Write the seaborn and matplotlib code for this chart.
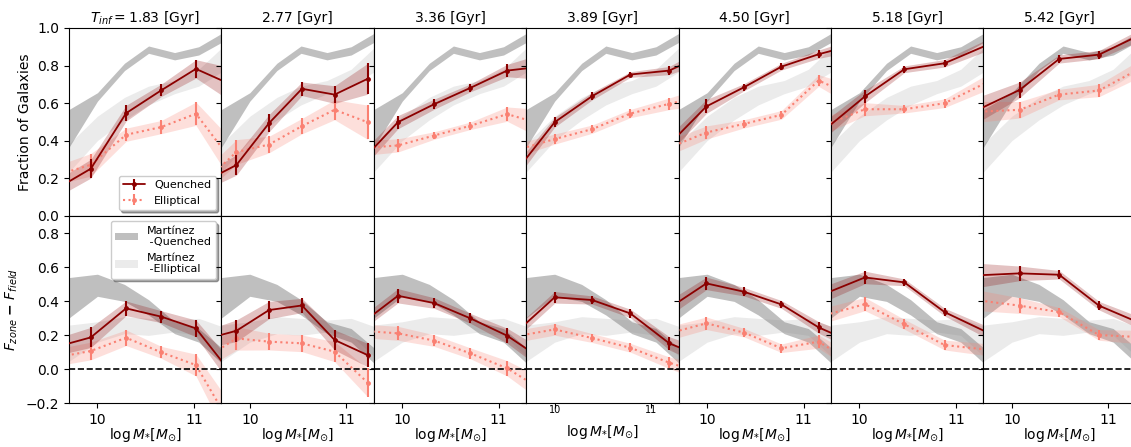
import numpy as np
import matplotlib
matplotlib.use("Agg")
import matplotlib.pyplot as plt
import seaborn as sns

# Infall-time bins (one column each)
t_inf = ["1.83", "2.77", "3.36", "3.89", "4.50", "5.18", "5.42"]

# Median log stellar mass of each mass bin, per infall-time bin
log_mass = [
    [9.565, 9.931, 10.297, 10.662, 11.021, 11.387],
    [9.521, 9.861, 10.199, 10.540, 10.878, 11.220],
    [9.578, 9.955, 10.331, 10.707, 11.087, 11.464],
    [9.604, 10.000, 10.389, 10.785, 11.188, 11.584],
    [9.605, 9.993, 10.382, 10.771, 11.156, 11.544],
    [9.643, 10.056, 10.465, 10.882, 11.300],
    [9.667, 10.080, 10.490, 10.903, 11.316],
]

# Fraction of quenched galaxies and its uncertainty
frac_quenched = [
    [0.140, 0.250, 0.546, 0.668, 0.782, 0.698],
    [0.179, 0.270, 0.493, 0.676, 0.645, 0.729],
    [0.291, 0.498, 0.594, 0.681, 0.773, 0.795],
    [0.239, 0.498, 0.637, 0.752, 0.773, 0.867],
    [0.379, 0.582, 0.684, 0.794, 0.860, 0.913],
    [0.460, 0.635, 0.780, 0.812, 0.904],
    [0.569, 0.670, 0.835, 0.858, 0.960],
]
frac_quenched_err = [
    [0.045, 0.050, 0.042, 0.033, 0.049, 0.090],
    [0.045, 0.054, 0.046, 0.036, 0.047, 0.082],
    [0.045, 0.035, 0.027, 0.021, 0.033, 0.070],
    [0.040, 0.026, 0.020, 0.015, 0.022, 0.040],
    [0.045, 0.037, 0.019, 0.018, 0.022, 0.035],
    [0.045, 0.034, 0.018, 0.020, 0.030],
    [0.066, 0.042, 0.022, 0.022, 0.030],
]

# Fraction of elliptical galaxies and its uncertainty
frac_elliptical = [
    [0.214, 0.271, 0.431, 0.472, 0.543, 0.296],
    [0.177, 0.339, 0.379, 0.477, 0.564, 0.498],
    [0.360, 0.374, 0.427, 0.479, 0.541, 0.485],
    [0.349, 0.408, 0.461, 0.544, 0.596, 0.642],
    [0.362, 0.443, 0.489, 0.537, 0.720, 0.631],
    [0.483, 0.567, 0.567, 0.599, 0.705],
    [0.554, 0.564, 0.645, 0.667, 0.781],
]
frac_elliptical_err = [
    [0.050, 0.060, 0.035, 0.035, 0.062, 0.110],
    [0.060, 0.066, 0.044, 0.041, 0.053, 0.091],
    [0.040, 0.035, 0.020, 0.020, 0.038, 0.080],
    [0.035, 0.027, 0.022, 0.022, 0.031, 0.050],
    [0.040, 0.035, 0.022, 0.023, 0.031, 0.060],
    [0.045, 0.035, 0.020, 0.023, 0.040],
    [0.055, 0.044, 0.028, 0.033, 0.045],
]

# Excess over the field: F_zone - F_field
diff_quenched = [
    [0.131, 0.188, 0.359, 0.310, 0.241, -0.023],
    [0.175, 0.227, 0.349, 0.376, 0.173, 0.084],
    [0.270, 0.433, 0.390, 0.300, 0.198, 0.054],
    [0.220, 0.424, 0.408, 0.329, 0.153, 0.062],
    [0.360, 0.506, 0.457, 0.382, 0.247, 0.150],
    [0.446, 0.541, 0.512, 0.337, 0.224],
    [0.554, 0.565, 0.557, 0.375, 0.275],
]
diff_quenched_err = [
    [0.050, 0.059, 0.043, 0.035, 0.049, 0.070],
    [0.050, 0.064, 0.051, 0.042, 0.059, 0.069],
    [0.040, 0.042, 0.031, 0.029, 0.044, 0.060],
    [0.035, 0.034, 0.024, 0.025, 0.039, 0.050],
    [0.045, 0.037, 0.025, 0.023, 0.034, 0.045],
    [0.045, 0.037, 0.020, 0.023, 0.035],
    [0.070, 0.043, 0.025, 0.025, 0.035],
]
diff_elliptical = [
    [0.069, 0.108, 0.186, 0.100, 0.025, -0.330],
    [0.060, 0.182, 0.163, 0.153, 0.104, -0.078],
    [0.227, 0.212, 0.169, 0.094, 0.006, -0.126],
    [0.195, 0.235, 0.184, 0.127, 0.039, -0.032],
    [0.212, 0.271, 0.216, 0.124, 0.163, 0.027],
    [0.319, 0.384, 0.265, 0.143, 0.117],
    [0.405, 0.375, 0.337, 0.202, 0.190],
]
diff_elliptical_err = [
    [0.050, 0.052, 0.046, 0.035, 0.064, 0.120],
    [0.060, 0.069, 0.049, 0.049, 0.059, 0.083],
    [0.040, 0.041, 0.034, 0.032, 0.045, 0.070],
    [0.035, 0.034, 0.026, 0.026, 0.034, 0.050],
    [0.040, 0.037, 0.025, 0.025, 0.039, 0.050],
    [0.045, 0.039, 0.029, 0.029, 0.035],
    [0.060, 0.046, 0.027, 0.031, 0.040],
]

# Martínez et al. reference ranges (same in every column)
mz_mass = [9.70, 10.00, 10.28, 10.53, 10.80, 11.05, 11.30]
mz_frac_q_lo = [0.360, 0.610, 0.773, 0.865, 0.830, 0.856, 0.927]
mz_frac_q_hi = [0.564, 0.655, 0.812, 0.904, 0.869, 0.900, 0.975]
mz_frac_e_lo = [0.230, 0.400, 0.510, 0.590, 0.650, 0.690, 0.770]
mz_frac_e_hi = [0.380, 0.530, 0.630, 0.690, 0.720, 0.780, 0.900]
mz_diff_q_lo = [0.300, 0.430, 0.400, 0.320, 0.210, 0.160, 0.030]
mz_diff_q_hi = [0.540, 0.560, 0.500, 0.410, 0.280, 0.240, 0.120]
mz_diff_e_lo = [0.045, 0.160, 0.210, 0.200, 0.220, 0.200, 0.070]
mz_diff_e_hi = [0.260, 0.280, 0.310, 0.300, 0.290, 0.300, 0.250]

# ---------------------------------------------------------------------------
sns.set_theme(style="ticks", rc={
    "font.size": 10, "axes.titlesize": 10, "axes.labelsize": 10,
    "xtick.labelsize": 10, "ytick.labelsize": 10, "legend.fontsize": 8,
    "xtick.major.size": 3.5, "ytick.major.size": 3.5,
    "xtick.major.width": 0.8, "ytick.major.width": 0.8,
    "axes.linewidth": 0.8, "axes.edgecolor": "black",
    "xtick.color": "black", "ytick.color": "black",
    "text.color": "black", "axes.labelcolor": "black",
    "patch.force_edgecolor": False,
})
plt.rcParams["font.family"] = ["DejaVu Sans"]

Q_COLOR = "darkred"
E_COLOR = "salmon"

fig, axes = plt.subplots(2, 7, figsize=(11.31, 4.47), dpi=100,
                         sharex=True, sharey="row")
fig.subplots_adjust(left=0.061, right=1.0043, top=0.9374, bottom=0.0978,
                    wspace=0, hspace=0)

mz_handles = None
for i in range(7):
    ax_top, ax_bot = axes[0, i], axes[1, i]

    # reference bands
    ax_top.fill_between(mz_mass, mz_frac_e_lo, mz_frac_e_hi,
                        color="lightgray", alpha=0.45, lw=0, zorder=1)
    ax_top.fill_between(mz_mass, mz_frac_q_lo, mz_frac_q_hi,
                        color="gray", alpha=0.5, lw=0, zorder=1.1)
    be = ax_bot.fill_between(mz_mass, mz_diff_e_lo, mz_diff_e_hi,
                             color="lightgray", alpha=0.45, lw=0, zorder=1)
    bq = ax_bot.fill_between(mz_mass, mz_diff_q_lo, mz_diff_q_hi,
                             color="gray", alpha=0.5, lw=0, zorder=1.1)
    if i == 0:
        mz_handles = (bq, be)

    x = np.asarray(log_mass[i])
    rows = [
        (ax_top, frac_quenched[i], frac_quenched_err[i],
         frac_elliptical[i], frac_elliptical_err[i]),
        (ax_bot, diff_quenched[i], diff_quenched_err[i],
         diff_elliptical[i], diff_elliptical_err[i]),
    ]
    for ax, yq, eq, ye, ee in rows:
        yq, eq = np.asarray(yq), np.asarray(eq)
        ye, ee = np.asarray(ye), np.asarray(ee)
        ax.fill_between(x, ye - ee, ye + ee, color=E_COLOR, alpha=0.25,
                        lw=0, zorder=2)
        ax.fill_between(x, yq - eq, yq + eq, color=Q_COLOR, alpha=0.24,
                        lw=0, zorder=2.1)
        sns.lineplot(x=x, y=ye, ax=ax, color=E_COLOR, linestyle=":",
                     linewidth=1.5, marker="o", markersize=3.5,
                     markeredgewidth=0, zorder=3)
        ax.errorbar(x, ye, yerr=ee, fmt="none", ecolor=E_COLOR,
                    elinewidth=1.5, zorder=3)
        sns.lineplot(x=x, y=yq, ax=ax, color=Q_COLOR, linestyle="-",
                     linewidth=1.3, marker="o", markersize=3.5,
                     markeredgewidth=0, zorder=4)
        ax.errorbar(x, yq, yerr=eq, fmt="none", ecolor=Q_COLOR,
                    elinewidth=1.5, zorder=4)

    ax_bot.axhline(0.0, color="black", linestyle="--", linewidth=1.2,
                   zorder=2.5)

    title = (r"$T_{inf} = %s$ [Gyr]" % t_inf[i]) if i == 0 else f"{t_inf[i]} [Gyr]"
    ax_top.set_title(title, pad=4)
    ax_top.set_xlabel("")
    ax_top.set_ylabel("")
    ax_top.tick_params(axis="x", bottom=False)
    ax_bot.set_xlabel(r"$\log M_{*}[M_{\odot}]$", labelpad=-1)
    ax_bot.set_ylabel("")

axes[0, 0].set_xlim(9.705, 11.285)
axes[0, 0].set_xticks([10, 11])
axes[0, 0].set_ylim(0.0, 1.0)
axes[0, 0].set_yticks([0.0, 0.2, 0.4, 0.6, 0.8, 1.0])
axes[1, 0].set_ylim(-0.2, 0.905)
axes[1, 0].set_yticks([-0.2, 0.0, 0.2, 0.4, 0.6, 0.8])

# the fourth column carries smaller mass tick labels
axes[1, 3].tick_params(axis="x", labelsize=7, pad=-2.3)
axes[1, 3].xaxis.labelpad = 6.0

axes[0, 0].set_ylabel("Fraction of Galaxies")
axes[1, 0].set_ylabel(r"$F_{zone}$ $\mathbf{-}$ $F_{field}$")

# legends
hq = axes[0, 0].errorbar([np.nan], [np.nan], yerr=[np.nan], fmt="o-",
                         color=Q_COLOR, lw=1.3, ms=3.5, mew=0, elinewidth=1.5)
he = axes[0, 0].errorbar([np.nan], [np.nan], yerr=[np.nan], fmt="o:",
                         color=E_COLOR, lw=1.5, ms=3.5, mew=0, elinewidth=1.5)
axes[0, 0].legend([hq, he], ["Quenched", "Elliptical"], loc="lower right",
                  fontsize=8, frameon=True, shadow=True, fancybox=True)
axes[1, 0].legend(list(mz_handles), ["Martínez\n -Quenched", "Martínez\n -Elliptical"],
                  loc="upper right", fontsize=8, frameon=True, shadow=True,
                  fancybox=True)

fig.savefig("out.png", dpi=100)
